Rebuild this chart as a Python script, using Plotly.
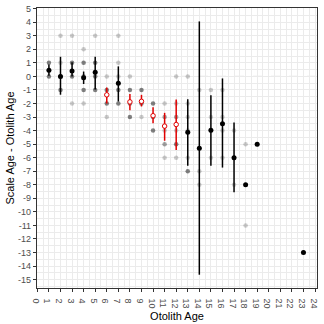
import plotly.graph_objects as go

# Individual age differences: otolith age, scale - otolith difference, number of fish
dot_age = [1, 1,
           2, 2, 2, 2,
           3, 3, 3, 3,
           4, 4, 4, 4, 4,
           5, 5, 5, 5,
           6, 6, 6, 6,
           7, 7, 7, 7, 7,
           8, 8, 8, 8,
           9, 9, 9,
           10, 10, 10,
           11, 11, 11, 11, 11,
           12, 12, 12, 12, 12, 12,
           13, 13, 13, 13, 13, 13,
           14, 14, 14,
           15, 15, 15, 15,
           16, 16, 16, 16,
           17, 17, 17,
           18, 18,
           19,
           23]
dot_diff = [1, 0,
            3, 1, 0, -1,
            3, 1, 0, -2,
            2, 1, 0, -1, -2,
            3, 1, 0, -1,
            0, -1, -2, -3,
            3, 1, 0, -1, -2,
            0, -1, -2, -3,
            -1, -2, -3,
            -2, -3, -4,
            -2, -3, -4, -5, -6,
            0, -2, -3, -4, -5, -6,
            0, -2, -3, -4, -6, -7,
            -1, -7, -8,
            -1, -3, -4, -6,
            -1, -3, -4, -6,
            -4, -6, -8,
            -5, -11,
            -5,
            -13]
dot_n = [3, 3,
         1, 1, 3, 3,
         1, 3, 3, 1,
         1, 3, 3, 3, 1,
         1, 3, 3, 3,
         1, 3, 3, 1,
         1, 1, 1, 3, 3,
         1, 3, 3, 3,
         3, 3, 1,
         3, 3, 3,
         1, 2, 1, 2, 1,
         1, 1, 2, 1, 3, 1,
         1, 1, 1, 1, 1, 3,
         1, 1, 1,
         1, 1, 1, 1,
         1, 1, 1, 1,
         1, 2, 1,
         1, 1,
         1,
         1]

# Mean difference per otolith age with 95% confidence limits
mean_age = [1, 2, 3, 4, 5, 6, 7, 8, 9, 10, 11, 12, 13, 14, 15, 16, 17, 18, 19, 23]
mean_diff = [0.45, 0.0, 0.4, -0.1, 0.3, -1.36, -0.5, -1.88, -1.84, -2.9,
             -3.67, -3.55, -4.12, -5.3, -3.98, -3.5, -6.0, -8.0, -5.0, -13.0]
ci_low = [0.04, -1.35, 0.0, -0.56, -0.96, -2.0, -1.85, -2.5, -2.22, -3.46,
          -4.75, -5.43, -6.59, -14.64, -6.59, -6.73, -8.55, None, None, None]
ci_high = [0.88, 1.45, 1.05, 0.36, 1.45, -0.82, 0.74, -1.3, -1.36, -2.27,
           -2.69, -1.7, -1.68, 4.06, -1.39, -0.15, -3.4, None, None, None]
differs = [False, False, False, False, False, True, False, True, True, True,
           True, True, False, False, False, False, False, False, False, False]

x_ticks = list(range(0, 25))
y_ticks = list(range(-15, 6))

fig = go.Figure()

# raw observations, shaded by how many fish share the point
dot_colors = [f"rgba(0,0,0,{1 - 0.8 ** n:.3f})" for n in dot_n]
fig.add_trace(go.Scatter(
    x=dot_age, y=dot_diff, mode="markers",
    marker=dict(size=4.5, color=dot_colors, line=dict(width=0)),
    hoverinfo="skip", showlegend=False))


def mean_trace(sig):
    idx = [i for i, d in enumerate(differs) if d == sig]
    xs = [mean_age[i] for i in idx]
    ys = [mean_diff[i] for i in idx]
    up = [(ci_high[i] - mean_diff[i]) if ci_high[i] is not None else 0 for i in idx]
    dn = [(mean_diff[i] - ci_low[i]) if ci_low[i] is not None else 0 for i in idx]
    col = "#e00000" if sig else "#000000"
    return go.Scatter(
        x=xs, y=ys, mode="markers",
        marker=dict(size=4.5 if sig else 5, symbol="circle",
                    color="white" if sig else "black",
                    line=dict(color=col, width=1 if sig else 0)),
        error_y=dict(type="data", symmetric=False, array=up, arrayminus=dn,
                     color=col, thickness=1.5, width=0),
        showlegend=False, hoverinfo="skip")


fig.add_trace(mean_trace(False))
fig.add_trace(mean_trace(True))

fig.add_hline(y=0, line=dict(color="#b3b3b3", width=1, dash="dash"), layer="below")

axis_common = dict(
    showgrid=True, gridcolor="#ebebeb", gridwidth=1,
    zeroline=False,
    showline=True, mirror=True, linecolor="#333333", linewidth=1.3,
    ticks="outside", ticklen=3, tickwidth=1, tickcolor="#333333",
    tickfont=dict(family="Liberation Sans, Arial, sans-serif", size=9, color="#4d4d4d"),
    minor=dict(showgrid=True, gridcolor="#ebebeb", gridwidth=1, ticks=""),
)

fig.update_layout(
    width=324, height=324,
    margin=dict(l=37, r=7, t=4, b=35),
    paper_bgcolor="white", plot_bgcolor="white",
    font=dict(family="Liberation Sans, Arial, sans-serif"),
    xaxis=dict(axis_common, range=[-0.03, 24.17], tickmode="array",
               tickvals=x_ticks, ticktext=[str(v) for v in x_ticks],
               title=dict(text="Otolith Age", font=dict(size=11, color="black"), standoff=4)),
    yaxis=dict(axis_common, range=[-15.62, 5.05], tickmode="array",
               tickvals=y_ticks, ticktext=[str(v) for v in y_ticks],
               title=dict(text="Scale Age - Otolith Age", font=dict(size=11, color="black"), standoff=1)),
)
fig.update_xaxes(minor=dict(dtick=0.5, tick0=0))
fig.update_yaxes(minor=dict(dtick=0.5, tick0=0))

fig.write_html("out.html")
